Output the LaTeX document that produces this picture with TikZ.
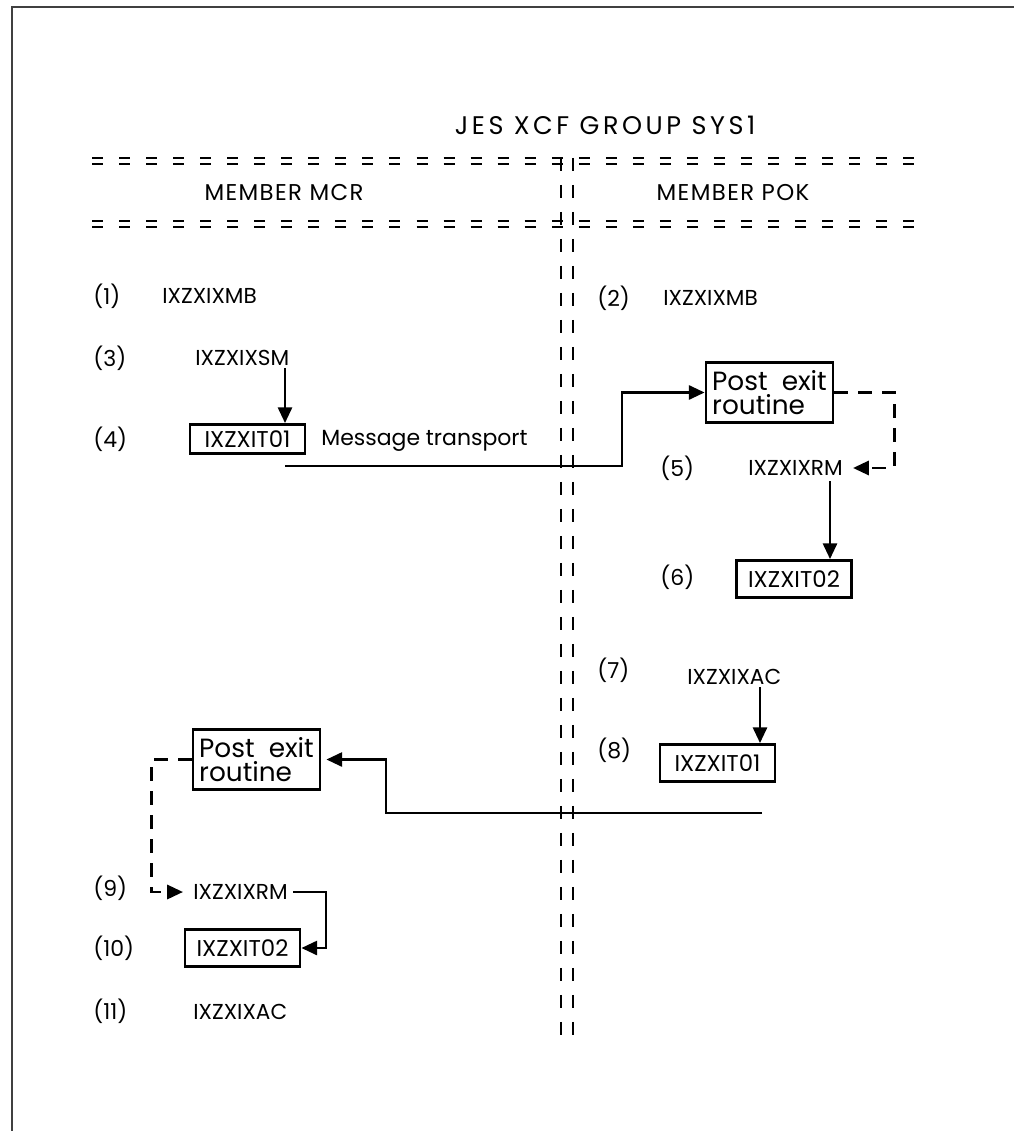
\documentclass[tikz,border=0pt]{standalone}
\usepackage{fontspec}
\setmainfont{Poppins}
\usetikzlibrary{arrows.meta}

\tikzset{
  modname/.style={anchor=west,inner sep=0pt,font=\fontsize{12.3}{14}\selectfont},
  stepnum/.style={anchor=west,inner sep=0pt,font=\fontsize{12.5}{14}\selectfont},
  header/.style={inner sep=0pt,font=\fontsize{13}{15}\selectfont\addfontfeature{LetterSpace=6}},
  modbox/.style={draw,line width=1.6pt,inner sep=0pt,minimum width=2.3cm,minimum height=0.74cm,
    font=\fontsize{13}{15}\selectfont},
  postbox/.style={draw,line width=1.6pt,inner sep=0pt,minimum width=2.54cm,minimum height=1.2cm,
    align=left,font=\fontsize{15}{13.5}\selectfont},
  sephor/.style={line width=1.6pt,dash pattern=on 0.22cm off 0.321cm},
  sepver/.style={line width=1.6pt,dash pattern=on 0.26cm off 0.28cm},
  flow/.style={->,line width=1.6pt},
  dashflow/.style={->,line width=1.6pt,dash pattern=on 0.28cm off 0.2cm}
}

\begin{document}
\begin{tikzpicture}[x=0.02cm,y=-0.02cm,>={Triangle[length=9pt,width=8pt]}]
  \useasboundingbox (0,0) rectangle (1014,1131);
  % frame
  \draw[line width=1.2pt,black!75] (12,1131) -- (12,7) -- (1014,7);

  % group and members
  \node[header,font=\fontsize{14.5}{16}\selectfont\addfontfeature{LetterSpace=14}] (title) at (605,125) {JES XCF GROUP SYS1};
  \draw[sephor] (92,158) -- (915,158);
  \draw[sephor] (92,164) -- (915,164);
  \draw[sephor] (92,221) -- (915,221);
  \draw[sephor] (92,227) -- (915,227);
  \draw[sepver] (561,158) -- (561,1042);
  \draw[sepver] (573,158) -- (573,1042);
  \node[header] (mcr) at (284,193) {MEMBER MCR};
  \node[header] (pok) at (733,193) {MEMBER POK};

  % member MCR
  \node[stepnum] (n1) at (93,296) {(1)};
  \node[modname] (mbL) at (162,296) {IXZXIXMB};
  \node[stepnum] (n3) at (93,358) {(3)};
  \node[modname] (smL) at (195,358) {IXZXIXSM};
  \node[stepnum] (n4) at (93,439) {(4)};
  \node[modbox,minimum height=0.58cm] (itL1) at (247.5,439) {IXZXIT01};
  \node[anchor=west,inner sep=0pt,font=\fontsize{12.5}{14}\selectfont] (msg) at (321,441) {Message transport};
  \coordinate (smout) at (285,368);
  \draw[flow] (smout) -- (smout |- itL1.north);

  % member POK
  \node[stepnum] (n2) at (597,298) {(2)};
  \node[modname] (mbR) at (663,298) {IXZXIXMB};
  \node[postbox] (postR) at (769.5,392.5) {Post\ \ exit\\routine};
  \node[stepnum] (n5) at (660,468) {(5)};
  \node[modname] (rmR) at (748,468) {IXZXIXRM};
  \node[stepnum] (n6) at (660,577) {(6)};
  \node[modbox] (itR2) at (794,579) {IXZXIT02};
  \node[stepnum] (n7) at (597,670) {(7)};
  \node[modname] (acR) at (687,677) {IXZXIXAC};
  \node[stepnum] (n8) at (597,750) {(8)};
  \node[modbox] (itR1) at (717.5,763) {IXZXIT01};

  \coordinate (msgstart) at (285,466);
  \coordinate (msgbend) at (622,466);
  \draw[flow] (msgstart) -- (msgbend) |- (postR.west);
  \draw[dashflow,shorten >=0.2cm] (postR.east) -- ++(60,0) |- (rmR.east);
  \coordinate (rmRout) at (830,481);
  \draw[flow] (rmRout) -- (rmRout |- itR2.north);
  \coordinate (acRout) at (760,687);
  \draw[flow] (acRout) -- (acRout |- itR1.north);

  % back to MCR
  \node[postbox] (postL) at (256.5,759.5) {Post\ \ exit\\routine};
  \node[stepnum] (n9) at (93,888) {(9)};
  \node[modname] (rmL) at (193,892) {IXZXIXRM};
  \node[stepnum] (n10) at (93,948) {(10)};
  \node[modbox] (itL2) at (242.5,948) {IXZXIT02};
  \node[stepnum] (n11) at (93,1011) {(11)};
  \node[modname] (acL) at (193,1012) {IXZXIXAC};

  \coordinate (retstart) at (762,813);
  \coordinate (retbend) at (386,813);
  \draw[flow,shorten >=0.1cm] (retstart) -- (retbend) |- (postL.east);
  \draw[dashflow,shorten >=0.2cm] (postL.west) -- ++(-40,0) |- (rmL.west);
  \draw[flow] ([xshift=0.1cm]rmL.east) -- ++(33,0) |- (itL2.east);
\end{tikzpicture}
\end{document}
